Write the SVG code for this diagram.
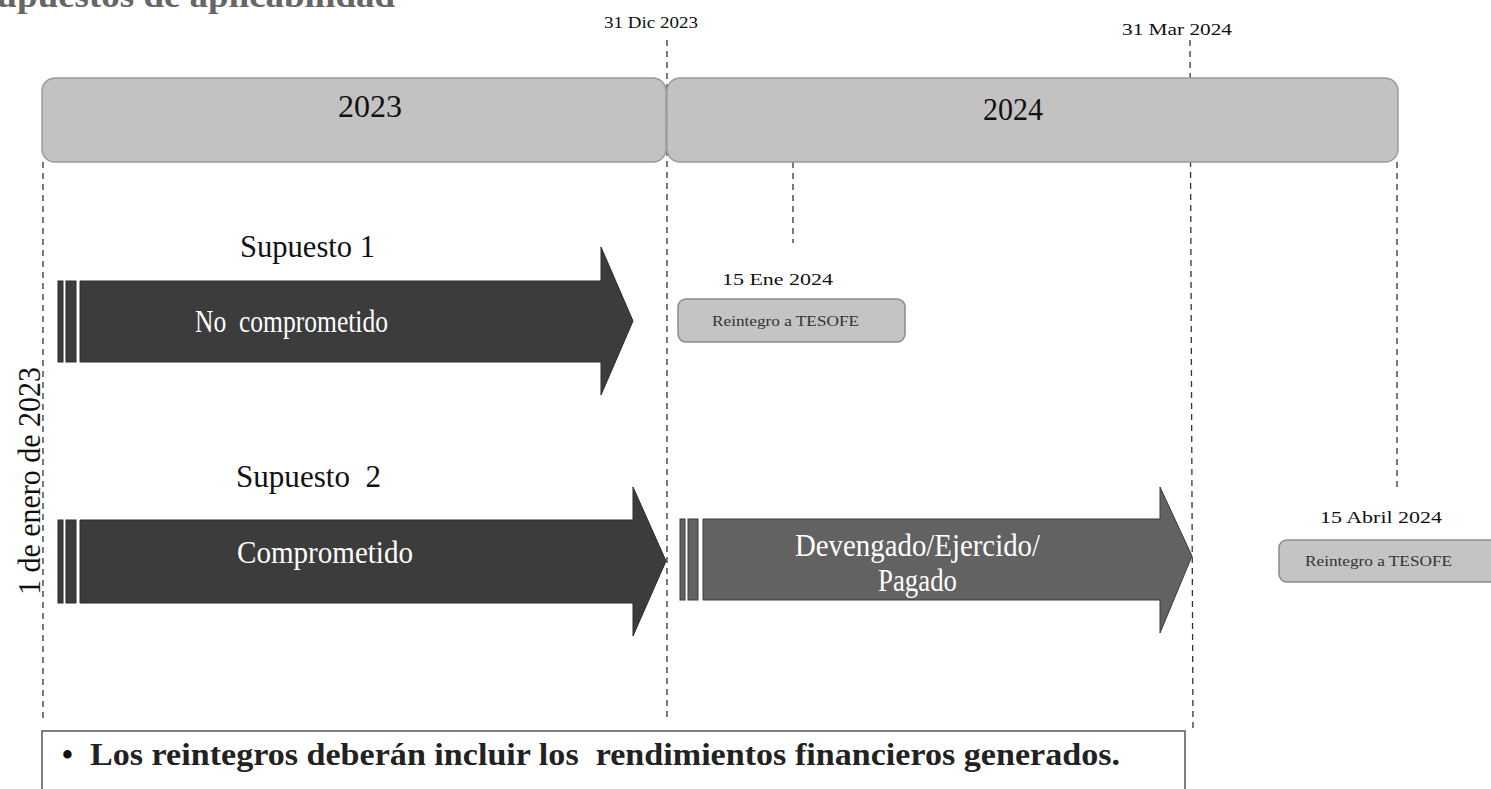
<svg xmlns="http://www.w3.org/2000/svg" width="1491" height="789" viewBox="0 0 1491 789">
<style>
text{font-family:"Liberation Serif","Times New Roman",serif}
.t{fill:#111}
.w{fill:#fff}
.yr{fill:#c2c2c2;stroke:#9a9a9a;stroke-width:1.5}
.rb{fill:#c4c4c4;stroke:#8a8a8a;stroke-width:1.5}
.dk{fill:#3c3c3c;stroke:#2a2a2a;stroke-width:1}
.md{fill:#626262;stroke:#3a3a3a;stroke-width:1}
.dash{stroke:#333;stroke-width:1.3;stroke-dasharray:6,5;fill:none}
</style>
<rect width="1491" height="789" fill="#fff"/>
<text x="-24" y="7" font-size="33" font-weight="bold" fill="#666" textLength="419" lengthAdjust="spacingAndGlyphs">Supuestos de aplicabilidad</text>
<g id="connectors">
<line class="dash" x1="43" y1="162" x2="43" y2="722"/>
<line class="dash" x1="667" y1="40" x2="667" y2="722"/>
<line class="dash" x1="1190" y1="40" x2="1193" y2="728"/>
<line class="dash" x1="793" y1="162" x2="793" y2="243"/>
<line class="dash" x1="1397" y1="162" x2="1397" y2="487"/>
</g>
<g id="year2023">
<rect class="yr" x="42" y="78" width="624" height="84" rx="13"/>
<text class="t" x="338" y="117" font-size="32" textLength="64" lengthAdjust="spacingAndGlyphs">2023</text>
</g>
<g id="year2024">
<rect class="yr" x="667" y="78" width="731" height="84" rx="13"/>
<text class="t" x="983" y="120" font-size="32" textLength="60" lengthAdjust="spacingAndGlyphs">2024</text>
</g>
<g id="date-dic"><text class="t" x="604" y="28" font-size="17" textLength="94" lengthAdjust="spacingAndGlyphs">31 Dic 2023</text></g>
<g id="date-mar"><text class="t" x="1122" y="35" font-size="17" textLength="110" lengthAdjust="spacingAndGlyphs">31 Mar 2024</text></g>
<g id="start-label"><text class="t" transform="translate(40,595) rotate(-90)" font-size="31" textLength="228" lengthAdjust="spacingAndGlyphs">1 de enero de 2023</text></g>
<g id="supuesto1">
<text class="t" x="240" y="257" font-size="31" textLength="135" lengthAdjust="spacingAndGlyphs">Supuesto 1</text>
<rect class="dk" x="58" y="281" width="5" height="81"/>
<rect class="dk" x="66" y="281" width="10" height="81"/>
<path class="dk" d="M80 281 H601 V247 L633 321 L601 395 V362 H80 Z"/>
<text class="w" x="195" y="332" font-size="31" textLength="193" lengthAdjust="spacingAndGlyphs" xml:space="preserve">No  comprometido</text>
</g>
<g id="reintegro1">
<text class="t" x="722" y="285" font-size="17" textLength="111" lengthAdjust="spacingAndGlyphs">15 Ene 2024</text>
<rect class="rb" x="678" y="299" width="227" height="43" rx="8"/>
<text x="712" y="326" font-size="15" fill="#333" textLength="147" lengthAdjust="spacingAndGlyphs">Reintegro a TESOFE</text>
</g>
<g id="supuesto2">
<text class="t" x="236" y="487" font-size="31" textLength="145" lengthAdjust="spacingAndGlyphs" xml:space="preserve">Supuesto  2</text>
<rect class="dk" x="58" y="520" width="5" height="83"/>
<rect class="dk" x="66" y="520" width="10" height="83"/>
<path class="dk" d="M80 520 H633 V487 L666 561 L633 636 V603 H80 Z"/>
<text class="w" x="237" y="563" font-size="31" textLength="176" lengthAdjust="spacingAndGlyphs">Comprometido</text>
</g>
<g id="devengado">
<rect class="md" x="680" y="519" width="5" height="81"/>
<rect class="md" x="688" y="519" width="10" height="81"/>
<path class="md" d="M703 519 H1160 V487 L1192 556 L1160 633 V600 H703 Z"/>
<text class="w" x="795" y="556" font-size="31" textLength="245" lengthAdjust="spacingAndGlyphs">Devengado/Ejercido/</text>
<text class="w" x="878" y="591" font-size="31" textLength="79" lengthAdjust="spacingAndGlyphs">Pagado</text>
</g>
<g id="reintegro2">
<text class="t" x="1320" y="523" font-size="17" textLength="122" lengthAdjust="spacingAndGlyphs">15 Abril 2024</text>
<rect class="rb" x="1279" y="540" width="220" height="42" rx="8"/>
<text x="1305" y="566" font-size="15" fill="#333" textLength="147" lengthAdjust="spacingAndGlyphs">Reintegro a TESOFE</text>
</g>
<g id="nota">
<rect x="42" y="731" width="1143" height="70" fill="#fff" stroke="#555" stroke-width="1.5"/>
<text class="t" x="62" y="765" font-size="31" font-weight="bold" fill="#222">•</text>
<text x="90" y="765" font-size="31" font-weight="bold" fill="#222" textLength="1030" lengthAdjust="spacingAndGlyphs" xml:space="preserve">Los reintegros deberán incluir los  rendimientos financieros generados.</text>
</g>
</svg>
